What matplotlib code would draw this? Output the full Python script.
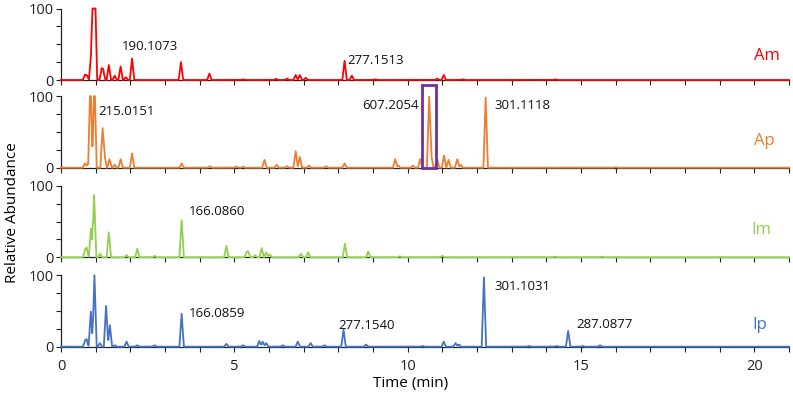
import numpy as np
import matplotlib
matplotlib.use('Agg')
import matplotlib.pyplot as plt
from matplotlib.patches import Rectangle

plt.rcParams['font.family'] = ['Open Sans', 'DejaVu Sans']

# peak apex times (min) and relative heights
am_t = [0.69, 0.75, 0.87, 0.93, 0.98, 1.17, 1.22, 1.38, 1.55, 1.72, 1.87, 2.05,
        3.46, 4.28, 5.25, 6.2, 6.52, 6.77, 6.89, 7.06, 8.18, 8.39, 9.07,
        10.85, 11.04, 11.6, 14.25]
am_h = [7, 6, 37, 130, 130, 14, 12, 21, 6, 19, 4, 30,
        25, 9, 1, 1.5, 2, 7, 7, 3, 27, 6, 1,
        2, 7, 1, 1]

ap_t = [0.69, 0.78, 0.85, 0.965, 1.2, 1.26, 1.4, 1.55, 1.72, 2.05, 3.48, 4.29,
        5.06, 5.25, 5.87, 6.22, 6.52, 6.77, 6.89, 7.15, 7.65, 8.18, 9.64,
        9.73, 10.15, 10.36, 10.62, 10.68, 10.85, 11.05, 11.18, 11.43, 11.53,
        12.25, 16.0]
ap_h = [6, 6, 130, 130, 54, 16, 12, 4, 12, 20, 6, 2,
        1.5, 1.5, 11, 4, 2, 23, 15, 3, 2, 6, 12,
        3, 3, 12, 98, 18, 12, 17, 11, 12, 4,
        98, 1]

im_t = [0.69, 0.74, 0.865, 0.955, 1.13, 1.38, 1.89, 2.2, 2.7, 3.48, 4.77, 5.35,
        5.4, 5.6, 5.79, 5.92, 6.02, 6.92, 7.13, 8.19, 8.86, 9.77, 11.0,
        14.25, 15.6]
im_h = [8, 12, 40, 87, 5, 35, 3, 12, 2, 52, 16, 6,
        7, 3, 13, 7, 4, 5, 7, 19, 8, 1.5, 2,
        1, 1]

ip_t = [0.69, 0.74, 0.86, 0.965, 1.12, 1.3, 1.41, 1.55, 1.89, 2.2, 2.7, 3.48,
        4.77, 5.25, 5.72, 5.82, 5.92, 6.4, 6.83, 7.2, 7.6, 8.15, 8.8, 10.43,
        11.04, 11.38, 11.48, 12.2, 13.5, 14.3, 14.63, 15.05, 15.55]
ip_h = [7, 9, 49, 100, 5, 57, 30, 2, 7, 2, 2, 46,
        4, 2, 8, 7, 5, 2, 7, 5, 2, 24, 3, 1,
        7, 5, 3, 97, 1, 1, 22, 1, 2]

samples = ['Am', 'Ap', 'Im', 'Ip']
colors = ['#FF0000', '#ED7D31', '#92D050', '#4472C4']
peaks = [(am_t, am_h), (ap_t, ap_h), (im_t, im_h), (ip_t, ip_h)]

# m/z labels: (time, height, text, alignment)
labels = [
    [(2.56, 47, '190.1073', 'center'), (8.27, 27, '277.1513', 'left')],
    [(1.07, 79, '215.0151', 'left'), (10.33, 87, '607.2054', 'right'),
     (12.5, 87, '301.1118', 'left')],
    [(3.69, 64, '166.0860', 'left')],
    [(3.69, 46, '166.0859', 'left'), (8.01, 30, '277.1540', 'left'),
     (12.49, 84, '301.1031', 'left'), (14.86, 31, '287.0877', 'left')],
]
name_pos = [(20.35, 34), (20.3, 37), (20.2, 38), (20.15, 30)]


def trace(t_peaks, h_peaks, w=0.065):
    grid = np.arange(0, 21.0005, 0.005)
    y = np.zeros_like(grid)
    for t0, h in zip(t_peaks, h_peaks):
        y += h * np.clip(1 - np.abs(grid - t0) / w, 0, None)
    return grid, np.minimum(y, 100)


fig = plt.figure(figsize=(7.93, 4.01), dpi=100)
bottoms_px = [80, 167.7, 257.3, 346.7]
axes = []
for i, b in enumerate(bottoms_px):
    ax = fig.add_axes([61 / 793, 1 - b / 401, 728 / 793, 71.5 / 401])
    x, y = trace(*peaks[i])
    ax.plot(x, y, color=colors[i], lw=1.3, clip_on=False, zorder=3,
            solid_joinstyle='round')
    ax.set_xlim(0, 21)
    ax.set_ylim(0, 100)
    for s in ['top', 'right']:
        ax.spines[s].set_visible(False)
    for s in ['left', 'bottom']:
        ax.spines[s].set_color('#222222')
        ax.spines[s].set_linewidth(0.9)
    ax.set_xticks(np.arange(0, 22, 1))
    ax.set_yticks([0, 25, 50, 75, 100])
    ax.set_yticklabels(['0', '', '', '', '100'])
    ax.tick_params(direction='out', length=3.5, width=0.8, labelsize=10.5,
                   colors='#222222', pad=2)
    if i < 3:
        ax.set_xticklabels([])
    else:
        ax.set_xticklabels([str(v) if v % 5 == 0 else '' for v in range(22)])
        ax.tick_params(axis='x', pad=5)
    for tx, ty, txt, ha in labels[i]:
        ax.text(tx, ty, txt, ha=ha, va='center', fontsize=9.5, color='#111111')
    nx, ny = name_pos[i]
    ax.text(nx, ny, samples[i], ha='center', va='center', fontsize=12,
            color=colors[i])
    axes.append(ax)

axes[1].add_patch(Rectangle((10.42, 0), 0.39, 115, fill=False,
                            ec='#7030A0', lw=2, clip_on=False, zorder=4))

fig.text(0.016, 1 - 213 / 401, 'Relative Abundance', rotation=90,
         ha='center', va='center', fontsize=11)
fig.text(411 / 793, 1 - 384 / 401, 'Time (min)', ha='center', va='center',
         fontsize=11)

fig.savefig('out.png', dpi=100)
